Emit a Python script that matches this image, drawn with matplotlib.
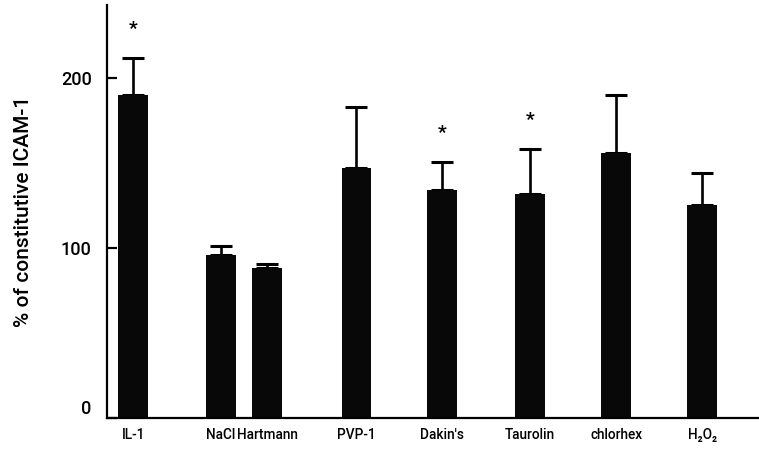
import matplotlib as mpl
mpl.rcParams['font.family'] = ['Roboto', 'DejaVu Sans']

import numpy as np
import matplotlib.pyplot as plt

# data
labels = ["IL-1", "NaCl", "Hartmann", "PVP-1", "Dakin's", "Taurolin", "chlorhex", "H\u2082O\u2082"]
means = [190, 96, 88, 147, 134, 132, 156, 125]
sds = [22, 5, 2.5, 36, 16.5, 26, 34, 19]
signif = [True, False, False, False, True, True, False, False]

# layout: NaCl and Hartmann sit close together
xpos = np.array([0, 1, 1.53, 2.55, 3.53, 4.53, 5.52, 6.5])

fig = plt.figure(figsize=(7.59, 4.54), dpi=100)
ax = fig.add_axes([0.141, 0.0793, 0.859, 0.910])

ax.bar(xpos, means, width=0.34, color='#080808', zorder=2)
ax.errorbar(xpos, means, yerr=[np.zeros(len(sds)), sds], fmt='none',
            ecolor='black', elinewidth=1.9, capsize=8, capthick=2.2, zorder=1)

for x, m, s, st in zip(xpos, means, sds, signif):
    if st:
        ax.text(x, m + s + 17, '*', ha='center', va='center', fontsize=14,
                fontweight='bold')

ax.set_xlim(-0.30, 7.15)
ax.set_ylim(0, 243)

ax.set_xticks(xpos)
ax.set_xticklabels(labels, fontsize=9.8, fontweight='medium')
ax.tick_params(axis='x', length=0, pad=7)

ax.set_yticks([0, 100, 200])
ax.set_yticklabels(['0', '100', '200'], fontsize=13, fontweight='medium')
ax.tick_params(axis='y', direction='in', length=7, width=1.6, pad=11)
ax.get_yticklabels()[0].set_va('bottom')

ax.set_ylabel('% of constitutive ICAM-1', fontsize=15, fontweight='medium',
              labelpad=20)

ax.spines['top'].set_visible(False)
ax.spines['right'].set_visible(False)
ax.spines['left'].set_linewidth(1.6)
ax.spines['bottom'].set_linewidth(1.6)

plt.savefig('out.png', dpi=100)
plt.close()
